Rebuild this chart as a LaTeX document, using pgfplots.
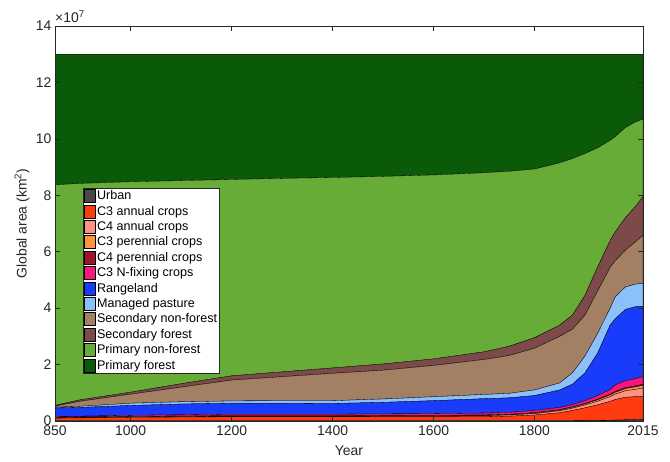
\documentclass[border=0pt]{standalone}
\usepackage{fontspec}
\setmainfont{Liberation Sans}
\usepackage{pgfplots}
\usepackage{pgfplotstable}
\pgfplotsset{compat=1.18}

\definecolor{cUrban}{RGB}{72,72,72}
\definecolor{cCthreeA}{RGB}{255,60,15}
\definecolor{cCfourA}{RGB}{255,145,135}
\definecolor{cCthreeP}{RGB}{255,150,60}
\definecolor{cCfourP}{RGB}{160,20,40}
\definecolor{cNfix}{RGB}{250,20,125}
\definecolor{cRange}{RGB}{25,60,250}
\definecolor{cPast}{RGB}{140,192,250}
\definecolor{cSecNF}{RGB}{163,128,100}
\definecolor{cSecF}{RGB}{124,74,72}
\definecolor{cPrimNF}{RGB}{104,172,56}
\definecolor{cPrimF}{RGB}{10,90,10}
\definecolor{axgray}{RGB}{38,38,38}

% global area per land-use state, units of 1e7 km^2
\pgfplotstableread{
year U     C3a  C4a   C3p   C4p   Nfix  Range Past SecNF SecF PNF  PF
850  0.01  0.09 0.02  0.01  0.005 0.025 0.30  0.03 0.04  0.02 7.82 4.63
900  0.01  0.10 0.02  0.01  0.005 0.025 0.31  0.04 0.18  0.05 7.67 4.58
1000 0.01  0.12 0.02  0.01  0.005 0.035 0.35  0.08 0.32  0.07 7.46 4.52
1100 0.01  0.13 0.02  0.01  0.005 0.045 0.38  0.08 0.52  0.12 7.20 4.48
1200 0.01  0.14 0.02  0.01  0.005 0.055 0.39  0.08 0.74  0.15 6.96 4.44
1300 0.01  0.14 0.02  0.01  0.005 0.055 0.39  0.09 0.85  0.17 6.86 4.40
1400 0.01  0.14 0.02  0.01  0.005 0.055 0.38  0.10 0.97  0.19 6.75 4.37
1500 0.01  0.14 0.025 0.015 0.005 0.055 0.41  0.12 1.02  0.22 6.65 4.33
1600 0.01  0.14 0.03  0.015 0.005 0.06  0.46  0.14 1.11  0.23 6.52 4.28
1700 0.01  0.14 0.035 0.02  0.008 0.067 0.51  0.15 1.24  0.27 6.35 4.20
1750 0.01  0.16 0.04  0.02  0.008 0.072 0.51  0.16 1.34  0.33 6.20 4.15
1800 0.01  0.20 0.05  0.025 0.01  0.075 0.53  0.20 1.48  0.37 5.98 4.07
1850 0.01  0.28 0.07  0.03  0.012 0.078 0.62  0.25 1.65  0.40 5.75 3.85
1875 0.012 0.36 0.08  0.035 0.013 0.08  0.72  0.40 1.55  0.50 5.55 3.70
1900 0.015 0.45 0.10  0.04  0.015 0.10  0.98  0.60 1.45  0.70 5.03 3.52
1925 0.02  0.55 0.13  0.05  0.02  0.13  1.50  0.70 1.50  0.85 4.23 3.32
1950 0.025 0.67 0.17  0.06  0.025 0.17  2.28  0.60 1.45  0.95 3.55 3.05
1960 0.03  0.73 0.19  0.065 0.03  0.235 2.34  0.78 1.28  1.02 3.38 2.92
1980 0.04  0.80 0.23  0.075 0.035 0.24  2.53  0.80 1.30  1.15 3.20 2.60
2000 0.05  0.81 0.26  0.085 0.04  0.255 2.55  0.80 1.50  1.25 3.00 2.40
2015 0.06  0.82 0.29  0.09  0.04  0.27  2.50  0.81 1.70  1.37 2.75 2.30
}\luh

\begin{document}
\begin{tikzpicture}
\path[use as bounding box] (-55bp,-41bp) rectangle (615bp,421bp);
\begin{axis}[
    at={(0,0)}, anchor=south west,
    scale only axis,
    width=588bp, height=395bp,
    xmin=850, xmax=2015,
    ymin=0, ymax=14,
    xtick={850,1000,1200,1400,1600,1800,2015},
    ytick={0,2,...,14},
    stack plots=y,
    axis on top,
    clip mode=individual,
    tick align=inside,
    major tick length=5bp,
    axis line style={axgray, line width=0.5bp},
    every tick/.style={axgray, line width=0.5bp},
    tick label style={font=\fontsize{14}{16}\selectfont, text=axgray},
    xticklabel style={yshift=-1bp},
    /pgf/number format/assume math mode=true,
    /pgf/number format/1000 sep={},
    xlabel={Year},
    ylabel={Global area (km\textsuperscript{2})},
    every axis x label/.style={at={(axis description cs:0.5,-0.076)}, anchor=center,
        font=\fontsize{14}{16}\selectfont, text=axgray},
    every axis y label/.style={at={(axis description cs:-0.056,0.5)}, rotate=90, anchor=center,
        font=\fontsize{14}{16}\selectfont, text=axgray},
    legend cell align=left,
    legend image code/.code={\draw[#1, draw=black, line width=0.4bp] (0bp,-6.5bp) rectangle (11bp,6.5bp);},
    legend style={at={(0.048,0.59)}, anchor=north west, draw=axgray, line width=0.5bp,
        fill=white, inner sep=1bp, row sep=2bp,
        font=\fontsize{12.6}{14}\selectfont,
        nodes={inner sep=1.2bp},
        /tikz/every even column/.append style={column sep=1bp}},
    area/.style={draw=black, line width=0.3bp},
]
\addplot[area, fill=cUrban] table[x=year, y=U] {\luh} \closedcycle;
\addlegendentry{Urban}
\addplot[area, fill=cCthreeA] table[x=year, y=C3a] {\luh} \closedcycle;
\addlegendentry{C3 annual crops}
\addplot[area, fill=cCfourA] table[x=year, y=C4a] {\luh} \closedcycle;
\addlegendentry{C4 annual crops}
\addplot[area, fill=cCthreeP] table[x=year, y=C3p] {\luh} \closedcycle;
\addlegendentry{C3 perennial crops}
\addplot[area, fill=cCfourP] table[x=year, y=C4p] {\luh} \closedcycle;
\addlegendentry{C4 perennial crops}
\addplot[area, fill=cNfix] table[x=year, y=Nfix] {\luh} \closedcycle;
\addlegendentry{C3 N-fixing crops}
\addplot[area, fill=cRange] table[x=year, y=Range] {\luh} \closedcycle;
\addlegendentry{Rangeland}
\addplot[area, fill=cPast] table[x=year, y=Past] {\luh} \closedcycle;
\addlegendentry{Managed pasture}
\addplot[area, fill=cSecNF] table[x=year, y=SecNF] {\luh} \closedcycle;
\addlegendentry{Secondary non-forest}
\addplot[area, fill=cSecF] table[x=year, y=SecF] {\luh} \closedcycle;
\addlegendentry{Secondary forest}
\addplot[area, fill=cPrimNF] table[x=year, y=PNF] {\luh} \closedcycle;
\addlegendentry{Primary non-forest}
\addplot[area, fill=cPrimF] table[x=year, y=PF] {\luh} \closedcycle;
\addlegendentry{Primary forest}
\end{axis}
\node[anchor=south west, inner sep=0pt, text=axgray]
    at (0bp,398bp) {\fontsize{14}{16}\selectfont ×10\textsuperscript{7}};
\end{tikzpicture}
\end{document}
